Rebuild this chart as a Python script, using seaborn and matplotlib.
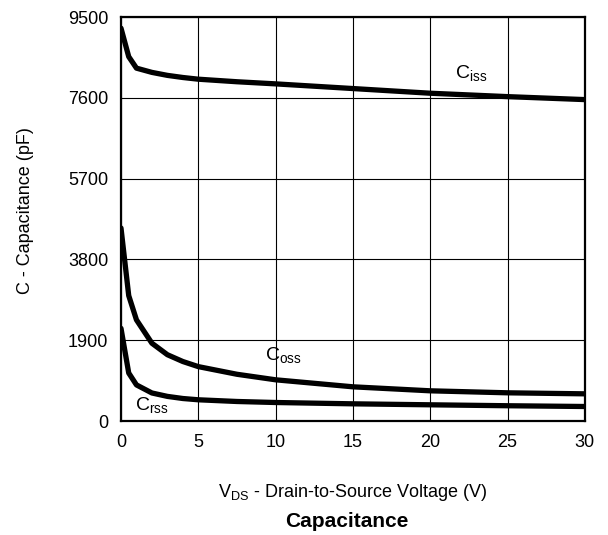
import matplotlib
matplotlib.use("Agg")
import matplotlib.pyplot as plt
import seaborn as sns
import pandas as pd

# Capacitance vs. drain-to-source voltage
vds = [0, 0.5, 1, 2, 3, 4, 5, 7.5, 10, 15, 20, 25, 30]
ciss = [9240, 8570, 8300, 8200, 8130, 8080, 8040, 7980, 7930, 7820, 7710, 7630, 7560]
coss = [4540, 2950, 2380, 1830, 1560, 1400, 1280, 1100, 970, 805, 711, 664, 640]
crss = [2180, 1130, 850, 660, 580, 530, 500, 460, 436, 405, 382, 360, 342]

x_ticks = [0, 5, 10, 15, 20, 25, 30]
y_ticks = [0, 1900, 3800, 5700, 7600, 9500]

frames = []
for name, vals in (("Ciss", ciss), ("Coss", coss), ("Crss", crss)):
    frames.append(pd.DataFrame({"VDS": vds, "C": vals, "series": name}))
df = pd.concat(frames, ignore_index=True)

sns.set_style("white")
plt.rcParams["font.family"] = ["Liberation Sans", "DejaVu Sans"]
plt.rcParams["mathtext.fontset"] = "custom"
plt.rcParams["mathtext.rm"] = "Liberation Sans"
plt.rcParams["mathtext.it"] = "Liberation Sans"
plt.rcParams["text.color"] = "black"
plt.rcParams["axes.labelcolor"] = "black"
plt.rcParams["xtick.color"] = "black"
plt.rcParams["ytick.color"] = "black"

fig = plt.figure(figsize=(6.08, 5.35), dpi=100)
ax = fig.add_axes([0.199, 0.213, 0.763, 0.755])

sns.lineplot(data=df, x="VDS", y="C", units="series", estimator=None,
             color="black", linewidth=3.8, ax=ax, legend=False)

ax.set_xlim(0, 30)
ax.set_ylim(0, 9500)
ax.set_xticks(x_ticks)
ax.set_yticks(y_ticks)
ax.set_yticklabels([str(v) for v in y_ticks])
ax.grid(True, color="black", linewidth=0.8)
ax.set_axisbelow(True)
for s in ax.spines.values():
    s.set_visible(True)
    s.set_color("black")
    s.set_linewidth(1.6)
ax.tick_params(axis="both", length=0, pad=9, labelsize=13,
               colors="black", labelcolor="black")

ax.set_xlabel(r"V$_{\mathrm{DS}}$ - Drain-to-Source Voltage (V)", fontsize=13,
              color="black")
ax.xaxis.set_label_coords(0.5, -0.178)
ax.xaxis.label.set_va("center")
ax.set_ylabel("C - Capacitance (pF)", fontsize=13, color="black")
ax.yaxis.set_label_coords(-0.205, 0.52)
ax.yaxis.label.set_va("center")

ax.text(21.6, 8190, r"C$_{\mathrm{iss}}$", fontsize=14, va="center", color="black")
ax.text(9.3, 1560, r"C$_{\mathrm{oss}}$", fontsize=14, va="center", color="black")
ax.text(0.9, 380, r"C$_{\mathrm{rss}}$", fontsize=14, va="center", color="black")

fig.text(0.571, 0.0243, "Capacitance", fontsize=15, fontweight="bold",
         ha="center", va="center", color="black")

fig.savefig("out.png", dpi=100)
